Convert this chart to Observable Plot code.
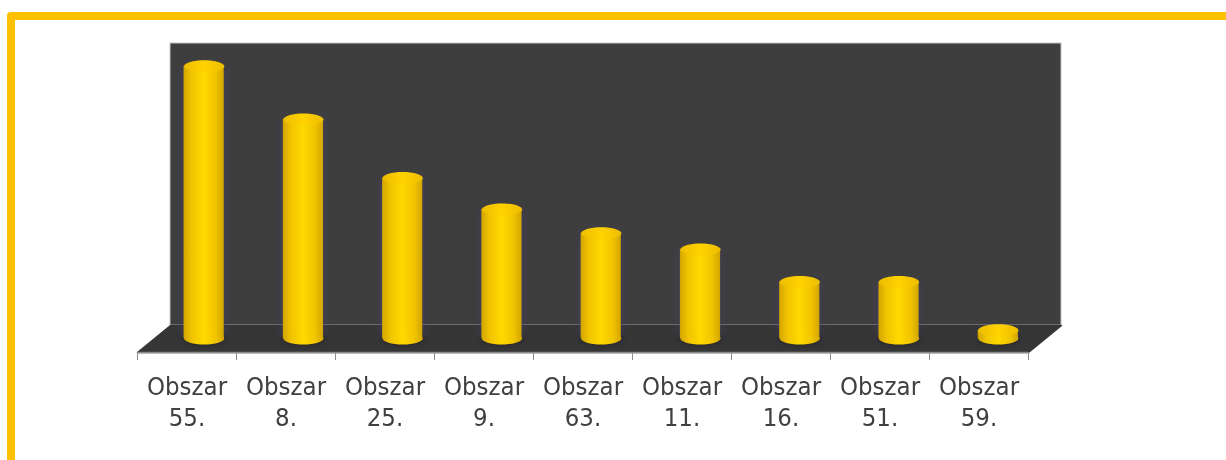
<!DOCTYPE html>
<html>
<head>
<meta charset="utf-8">
<script src="https://cdn.jsdelivr.net/npm/d3@7"></script>
<script src="https://cdn.jsdelivr.net/npm/@observablehq/plot@0.6"></script>
<style>
html,body{margin:0;padding:0;background:#fff;width:1226px;height:460px;overflow:hidden}
#frame{position:absolute;left:7px;top:12px;width:1400px;height:800px;border:8px solid #ffc000;border-radius:4px;box-sizing:border-box}
#chart{position:absolute;left:0;top:0;filter:blur(0.45px)}
</style>
</head>
<body>
<div id="frame"></div>
<div id="chart"></div>
<script>
const categories = ["Obszar\n55.","Obszar\n8.","Obszar\n25.","Obszar\n9.","Obszar\n63.","Obszar\n11.","Obszar\n16.","Obszar\n51.","Obszar\n59."];
const values = [25.1, 20.2, 14.8, 11.9, 9.7, 8.2, 5.2, 5.2, 0.75];
const tickPositions = d3.range(categories.length + 1);
const depthX = 1 / 3, depthY = 2.49, wallHeight = 26, barBase = 1.29, barHalf = 0.203, barShift = 0.172, barStep = 1.0027;
const n = categories.length;
const rows = categories.map((c, i) => ({c, x: (i + 0.5) * barStep + barShift, cx: i + 0.5, v: values[i]}));
const floor = [[0,0],[n,0],[n + depthX,depthY],[depthX,depthY]].map(([x,y]) => ({x,y}));
const ellipse = {draw(ctx, size){
  const rx = Math.sqrt(size / Math.PI), ry = rx * 0.3, k = 0.5523;
  ctx.moveTo(-rx,0);
  ctx.bezierCurveTo(-rx,-ry*k,-rx*k,-ry,0,-ry);
  ctx.bezierCurveTo(rx*k,-ry,rx,-ry*k,rx,0);
  ctx.bezierCurveTo(rx,ry*k,rx*k,ry,0,ry);
  ctx.bezierCurveTo(-rx*k,ry,-rx,ry*k,-rx,0);
  ctx.closePath();
}};
const defs = () => {
  const ns = "http://www.w3.org/2000/svg";
  const d = document.createElementNS(ns,"defs");
  d.innerHTML = `<linearGradient id="cyl" x1="0" x2="1" y1="0" y2="0">
    <stop offset="0" stop-color="#d2a500"/><stop offset="0.2" stop-color="#f0c400"/>
    <stop offset="0.5" stop-color="#ffd900"/><stop offset="0.8" stop-color="#f0c400"/>
    <stop offset="1" stop-color="#d2a500"/></linearGradient>
    <linearGradient id="cap" x1="0" x2="1" y1="0" y2="0">
    <stop offset="0" stop-color="#edbd00"/><stop offset="0.5" stop-color="#ffd200"/>
    <stop offset="1" stop-color="#edbd00"/></linearGradient>`;
  return d;
};
const chart = Plot.plot({
  width: 1226, height: 460,
  marginLeft: 137, marginRight: 198, marginTop: 43, marginBottom: 108,
  style: {background: "transparent", overflow: "visible"},
  x: {domain: [0, n], axis: null},
  y: {domain: [0, depthY + wallHeight], axis: null},
  marks: [
    defs,
    Plot.rect([0], {x1: depthX, x2: n + depthX, y1: depthY, y2: depthY + wallHeight, fill: "#3e3e3e", stroke: "#c4c4c4", strokeWidth: 1}),
    Plot.line(floor, {x: "x", y: "y", fill: "#363636", stroke: "#363636", curve: "linear-closed"}),
    Plot.ruleY([0], {stroke: "#8c8c8c", strokeWidth: 1.5}),
    Plot.axisX({ticks: tickPositions, tickSize: 8, tickFormat: () => "", stroke: "#8c8c8c", strokeOpacity: 1, tickPadding: 0}),
    Plot.dot(rows, {x: "x", y: barBase, r: 22, symbol: ellipse, fill: "#242424", imageFilter: "blur(2px)"}),
    Plot.rect(rows, {x1: d => d.x - barHalf, x2: d => d.x + barHalf, y1: barBase, y2: d => barBase + d.v, fill: "url(#cyl)", imageFilter: "drop-shadow(0 0 4px rgba(70,60,120,.6))"}),
    Plot.dot(rows, {x: "x", y: barBase, r: 20.1, symbol: ellipse, fill: "url(#cyl)"}),
    Plot.dot(rows, {x: "x", y: d => barBase + d.v, r: 20.1, symbol: ellipse, fill: "url(#cap)"}),
    Plot.text(rows, {x: "cx", y: 0, text: "c", dy: 20, lineAnchor: "top", lineHeight: 1.22, textAnchor: "middle", fontSize: 25.5, fontFamily: "'DejaVu Sans Condensed', 'DejaVu Sans', sans-serif", fontStretch: "condensed", fill: "#404040"})
  ]
});
chart.querySelectorAll("text").forEach(t => { if (t.textContent.includes("Obszar")) t.style.fontStretch = "condensed"; });
document.getElementById("chart").append(chart);
</script>
</body>
</html>
